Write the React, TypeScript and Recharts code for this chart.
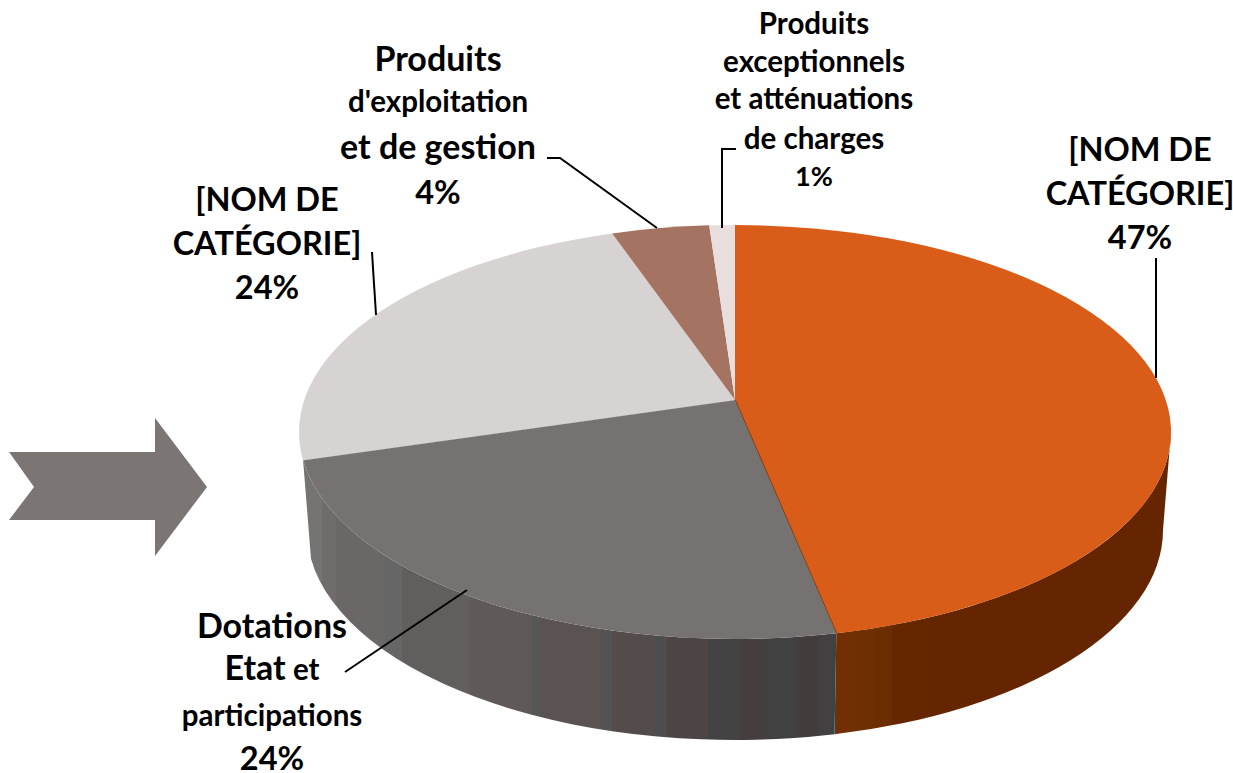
import { PieChart, Pie } from "recharts";

const categories = [
  "[NOM DE CATÉGORIE]",
  "Dotations Etat et participations",
  "[NOM DE CATÉGORIE]",
  "Produits d'exploitation et de gestion",
  "Produits exceptionnels et atténuations de charges",
];
const shares = [46.8, 23.6, 24.3, 4.2, 1.1];
const percentLabels = ["47%", "24%", "24%", "4%", "1%"];
const sliceColors = ["#D95D19", "#767271", "#D7D3D2", "#A57362", "#E9DEDE"];

const pieData = categories.map((name, i) => ({ name, value: shares[i], fill: sliceColors[i] }));

// the tilted disc: apex sits above the ellipse centre because of the perspective
const APEX_X = 735;
const APEX_Y = 400;
const RADIUS = 436;
const TOP = { cx: 735, cy: 432, rx: 436, ry: 207 };
const BOTTOM = { cx: 735, cy: 530, rx: 428, ry: 210 };
const SKEW = 32 / 207;

// vertical shading bands of the side wall: [x where band starts, colour]
const wallBands: [number, string][] = [
  [298, "#767473"], [322, "#6f6c6b"], [336, "#6a6766"], [385, "#666666"], [402, "#625e5d"],
  [470, "#5f5a58"], [532, "#565655"], [542, "#5a5351"], [600, "#525352"], [612, "#534c4a"],
  [653, "#4c4d4c"], [667, "#4c4544"], [708, "#434343"], [740, "#443f3e"], [765, "#414141"],
  [797, "#423d3c"], [818, "#414141"], [836, "#722f06"], [850, "#6e2f03"], [875, "#6c2e00"],
  [892, "#662600"], [930, "#652500"],
];
const wallSpan = [298, 1172];

const rad = (d: number) => (d * Math.PI) / 180;

// angle on the flat pie (clockwise from top) -> angle on the drawn ellipse
function warp(deg: number) {
  if (deg >= 360 - 1e-6) return 360;
  const c = Math.cos(rad(deg));
  const s = Math.sin(rad(deg));
  const d = 1 + SKEW * c;
  const phi = (Math.atan2((s * Math.sqrt(1 - SKEW * SKEW)) / d, (c + SKEW) / d) * 180) / Math.PI;
  return phi < 0 ? phi + 360 : phi;
}

const rim = (e: typeof TOP, phi: number) =>
  `${(e.cx + e.rx * Math.sin(rad(phi))).toFixed(2)} ${(e.cy - e.ry * Math.cos(rad(phi))).toFixed(2)}`;

function SliceShape(props: any) {
  const { startAngle, endAngle, fill, index } = props;
  const a = warp(90 - startAngle);
  const b = warp(90 - endAngle);
  const large = b - a > 180 ? 1 : 0;
  const face = `M${APEX_X} ${APEX_Y} L${rim(TOP, a)} A${TOP.rx} ${TOP.ry} 0 ${large} 1 ${rim(TOP, b)} Z`;
  const wa = Math.max(a, 90);
  const wb = Math.min(b, 270);
  const showWall = index < 2 && wb > wa;
  const wall = `M${rim(TOP, wa)} A${TOP.rx} ${TOP.ry} 0 0 1 ${rim(TOP, wb)} L${rim(BOTTOM, wb)} A${BOTTOM.rx} ${BOTTOM.ry} 0 0 0 ${rim(BOTTOM, wa)} Z`;
  return (
    <g>
      {showWall && <path d={wall} fill="url(#wallShade)" />}
      <path d={face} fill={fill} />
      {index === 0 && <path d={`M${APEX_X} ${APEX_Y} L${rim(TOP, b)}`} stroke="#7a3a12" strokeWidth={1.5} />}
      {index === 1 && <path d={`M${APEX_X} ${APEX_Y} L${rim(TOP, b)}`} stroke="#8e8a88" strokeWidth={1} />}
    </g>
  );
}

const BIG = 34;
const MID = 32.5;
const SMALL = 29.5;

// text lines for each slice: [text, size, baseline], the percent comes from percentLabels
const labelLayout = [
  {
    x: 1140,
    lines: [["[NOM DE", MID, 161], ["CATÉGORIE]", MID, 205]],
    pct: [MID, 249],
    leader: "1156,258 1156,378",
  },
  {
    x: 272,
    lines: [["Dotations", BIG, 638], ["Etat", BIG, 680, " et"], ["participations", SMALL, 726]],
    pct: [MID, 770],
    leader: "345,672 467,590",
  },
  {
    x: 267,
    lines: [["[NOM DE", MID, 211], ["CATÉGORIE]", MID, 255]],
    pct: [MID, 299],
    leader: "372,252 376,315",
  },
  {
    x: 438,
    lines: [["Produits", BIG, 71], ["d'exploitation", SMALL, 112], ["et de gestion", BIG, 159]],
    pct: [MID, 204],
    leader: "547,158 560,158 657,228",
  },
  {
    x: 814,
    lines: [["Produits", SMALL, 34], ["exceptionnels", SMALL, 72], ["et atténuations", SMALL, 109], ["de charges", SMALL, 149]],
    pct: [27, 186],
    leader: "736,149 722,149 722,228",
  },
];

function SliceLabel({ index }: any) {
  const l = labelLayout[index];
  return (
    <g fontFamily="Lato, sans-serif" fontWeight={700} fill="#000" textAnchor="middle">
      <polyline points={l.leader} fill="none" stroke="#000" strokeWidth={2} />
      {l.lines.map((line: any[]) => (
        <text key={line[2]} x={l.x} y={line[2]} fontSize={line[1]} stroke="none">
          {line[0]}
          {line[3] && <tspan fontSize={SMALL}>{line[3]}</tspan>}
        </text>
      ))}
      <text x={l.x} y={l.pct[1]} fontSize={l.pct[0]} stroke="none">
        {percentLabels[index]}
      </text>
    </g>
  );
}

export default function App() {
  const total = wallSpan[1] - wallSpan[0];
  return (
    <div style={{ position: "fixed", left: 0, top: 0, width: 1233, height: 773, background: "#fff", overflow: "hidden" }}>
      <PieChart width={1233} height={773} margin={{ top: 0, right: 0, bottom: 0, left: 0 }}>
        <defs>
          <linearGradient id="wallShade" gradientUnits="userSpaceOnUse" x1={wallSpan[0]} y1={0} x2={wallSpan[1]} y2={0}>
            {wallBands.flatMap(([x, color], i) => {
              const next = i + 1 < wallBands.length ? wallBands[i + 1][0] : wallSpan[1];
              return [
                <stop key={`${i}a`} offset={(x - wallSpan[0]) / total} stopColor={color} />,
                <stop key={`${i}b`} offset={(next - wallSpan[0]) / total} stopColor={color} />,
              ];
            })}
          </linearGradient>
        </defs>
        <polygon points="9,452 155,452 155,418 207,487 155,556 155,520 9,520 34,487" fill="#7B7674" />
        <Pie
          data={pieData}
          dataKey="value"
          nameKey="name"
          cx={APEX_X}
          cy={APEX_Y}
          outerRadius={RADIUS}
          startAngle={90}
          endAngle={-270}
          stroke="none"
          shape={SliceShape}
          label={SliceLabel}
          labelLine={false}
          isAnimationActive={false}
        />
      </PieChart>
    </div>
  );
}
